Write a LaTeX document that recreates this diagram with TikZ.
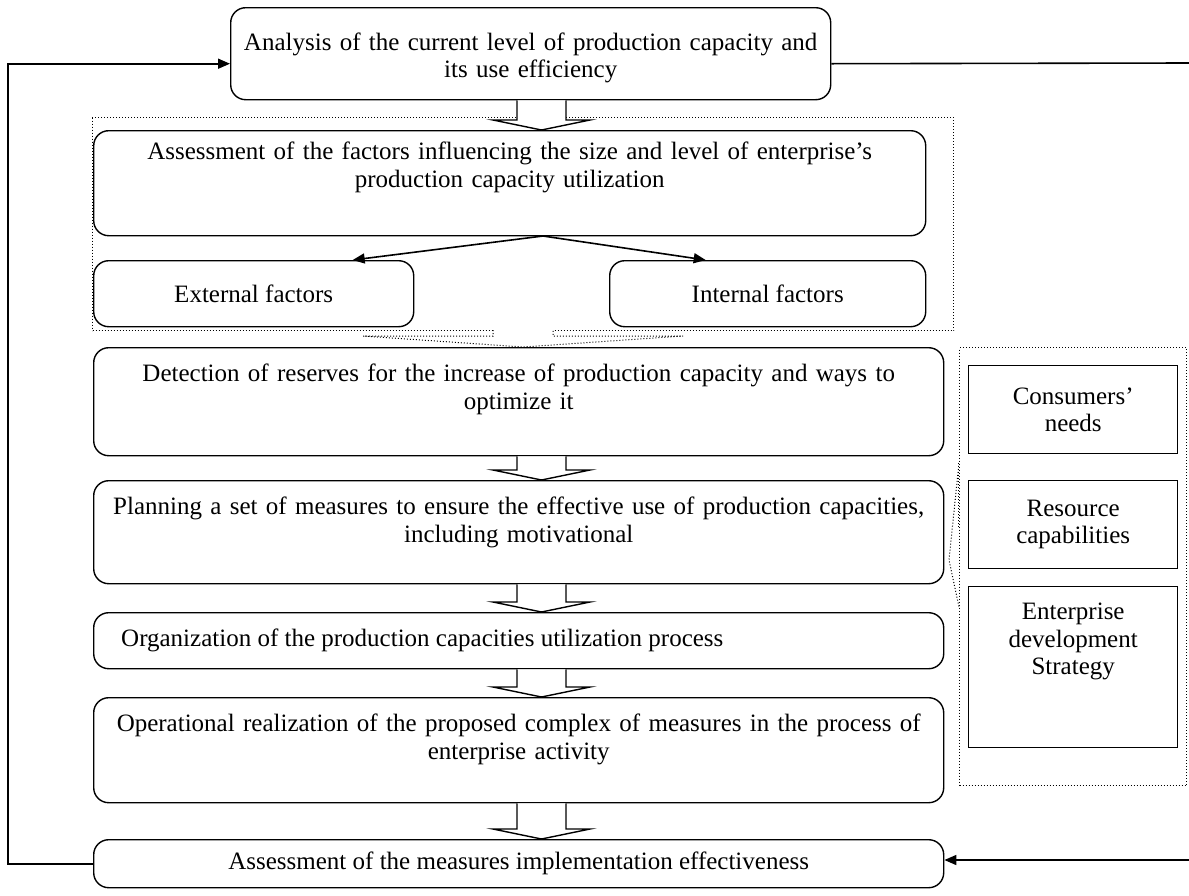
\documentclass[tikz,border=0pt]{standalone}
\usepackage{fontspec}
\setmainfont{Liberation Serif}
\usetikzlibrary{arrows.meta,calc}
\newcommand\blkarrow[2]{%
  \draw[blk] ($(#1.south -| ax)+(-24.5,0)$) -- ($(#2.north -| ax)+(-24.5,-10)$)
    -- ($(#2.north -| ax)+(-48.5,-10)$) -- (#2.north -| ax)
    -- ($(#2.north -| ax)+(48.5,-10)$) -- ($(#2.north -| ax)+(24.5,-10)$)
    -- ($(#1.south -| ax)+(24.5,0)$);}
\begin{document}
\begin{tikzpicture}[x=1pt,y=-1pt,
  box/.style={draw,rounded corners=15pt,line width=1.4pt,inner sep=0pt},
  sbox/.style={draw,line width=1.4pt,inner sep=0pt},
  txt/.style={align=center,inner sep=0pt,font=\fontsize{25}{27.5}\selectfont},
  dotbox/.style={draw,dotted,line width=1pt},
  conn/.style={line width=1.6pt,-{Triangle[length=12pt,width=10pt]}},
  plain/.style={line width=1.6pt},
  blk/.style={line width=1.4pt,fill=white}]
\useasboundingbox (0,0) rectangle (1189,895);
\coordinate (ax) at (541.5,0);
% dotted groups
\node[dotbox,minimum width=861pt,minimum height=213pt,anchor=north west,inner sep=0pt] (g1) at (92,117) {};
\node[dotbox,minimum width=227pt,minimum height=438pt,anchor=north west,inner sep=0pt] (g2) at (959,347) {};
% main boxes
\node[box,minimum width=600pt,minimum height=92pt,anchor=north west] (b1) at (230,7) {};
\node[txt,text width=580pt] (t1) at ($(b1.center)+(0,4)$) {Analysis of the current level of production capacity and\\its use efficiency};
\node[box,minimum width=832pt,minimum height=105pt,anchor=north west] (b2) at (93,130) {};
\node[txt,text width=810pt,anchor=north] (t2) at ($(b2.north)+(0,12)$) {Assessment of the factors influencing the size and level of enterprise’s\\production capacity utilization};
\node[box,minimum width=320pt,minimum height=66pt,anchor=north west] (ext) at (93,260) {};
\node[txt] (text) at (ext) {External factors};
\node[box,minimum width=316pt,minimum height=66pt,anchor=north west] (int) at (609,260) {};
\node[txt] (tint) at (int) {Internal factors};
\node[box,minimum width=850pt,minimum height=108pt,anchor=north west] (b3) at (93,347) {};
\node[txt,text width=830pt,anchor=north] (t3) at ($(b3.north)+(0,17)$) {Detection of reserves for the increase of production capacity and ways to\\optimize it};
\node[box,minimum width=850pt,minimum height=103pt,anchor=north west] (b4) at (93,480) {};
\node[txt,text width=830pt,anchor=north] (t4) at ($(b4.north)+(0,17)$) {Planning a set of measures to ensure the effective use of production capacities,\\including motivational};
\node[box,minimum width=850pt,minimum height=56pt,anchor=north west] (b5) at (93,612) {};
\node[txt,anchor=west] (t5) at ($(b5.west)+(28,0)$) {Organization of the production capacities utilization process};
\node[box,minimum width=850pt,minimum height=105pt,anchor=north west] (b6) at (93,697) {};
\node[txt,text width=830pt,anchor=north] (t6) at ($(b6.north)+(0,17)$) {Operational realization of the proposed complex of measures in the process of\\enterprise activity};
\node[box,minimum width=850pt,minimum height=48pt,anchor=north west] (b7) at (93,839) {};
\node[txt] (t7) at (b7) {Assessment of the measures implementation effectiveness};
% right boxes
\node[sbox,minimum width=209pt,minimum height=88pt,anchor=north west] (r1) at (968,365) {};
\node[txt] (tr1) at (r1) {Consumers'\\needs};
\node[sbox,minimum width=209pt,minimum height=88pt,anchor=north west] (r2) at (968,480) {};
\node[txt] (tr2) at (r2) {Resource\\capabilities};
\node[sbox,minimum width=209pt,minimum height=161pt,anchor=north west] (r3) at (968,586) {};
\node[txt,anchor=north] (tr3) at ($(r3.north)+(0,17)$) {Enterprise\\development\\Strategy};
% block arrows
\blkarrow{b1}{b2}
\blkarrow{b3}{b4}
\blkarrow{b4}{b5}
\blkarrow{b5}{b6}
\blkarrow{b6}{b7}
% funnel under group 1
\draw[dotted,line width=1pt,fill=white] (493,330) -- (493,336) -- (363,336) -- (523,347) -- (683,336) -- (553,336) -- (553,330);
% bracket at right group
\draw[dotted,line width=1pt] (959,463) -- (949,560) -- (959,607);
\draw[dotted,line width=1pt,double] (959,463) -- (959,527);
% branch arrows
\coordinate (bs) at (543,236);
\draw[conn] (bs) -- ([xshift=99pt]ext.north);
\draw[conn] (bs) -- ([xshift=-62pt]int.north);
% feedback
\coordinate (L) at (8,0);
\coordinate (R1) at (1189,63);
\coordinate (R2) at (1189,860);
\draw[conn] (b7.west) -- (b7.west -| L) -- ([yshift=-10pt]b1.west -| L) -- ([yshift=-10pt]b1.west);
\draw[plain] ([yshift=-10pt]b1.east) -- (R1);
\draw[conn] (R2) -- (R2 -| b7.east);
\end{tikzpicture}
\end{document}
